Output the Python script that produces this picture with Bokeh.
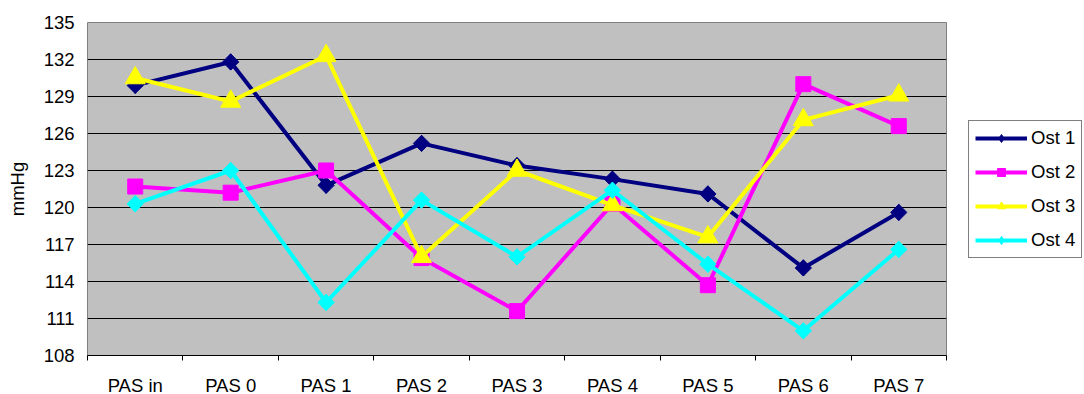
import numpy as np
from bokeh.plotting import figure
from bokeh.models import Range1d, FixedTicker, Legend, LegendItem
from bokeh.embed import file_html
from bokeh.resources import INLINE

categories = ["PAS in", "PAS 0", "PAS 1", "PAS 2", "PAS 3", "PAS 4", "PAS 5", "PAS 6", "PAS 7"]
ost1 = [129.9, 131.8, 121.8, 125.2, 123.4, 122.3, 121.1, 115.1, 119.6]
ost2 = [121.7, 121.2, 123.0, 115.9, 111.6, 120.3, 113.7, 130.0, 126.6]
ost3 = [130.5, 128.6, 132.3, 116.0, 123.0, 120.2, 117.6, 127.1, 129.1]
ost4 = [120.3, 123.0, 112.3, 120.6, 116.0, 121.4, 115.4, 110.0, 116.6]
series_names = ["Ost 1", "Ost 2", "Ost 3", "Ost 4"]
y_ticks = [108, 111, 114, 117, 120, 123, 126, 129, 132, 135]

FONT = "Liberation Sans"
FS = "18.5px"

p = figure(frame_width=859, frame_height=333, output_backend="svg", toolbar_location=None,
           x_range=Range1d(0, len(categories)), y_range=Range1d(108, 135),
           min_border_left=87, min_border_right=136, min_border_top=22, min_border_bottom=36)
p.background_fill_color = "#C0C0C0"
p.border_fill_color = "white"
p.outline_line_color = "#808080"
p.outline_line_width = 1

xs = [i + 0.5 for i in range(len(categories))]

p.xaxis.ticker = FixedTicker(ticks=xs, minor_ticks=list(range(len(categories) + 1)))
p.xaxis.major_label_overrides = {x: c for x, c in zip(xs, categories)}
p.xaxis.major_tick_line_color = None
p.xaxis.major_tick_out = 0
p.xaxis.major_tick_in = 0
p.xaxis.minor_tick_line_color = "black"
p.xaxis.minor_tick_out = 5
p.xaxis.minor_tick_in = 0
p.xaxis.axis_line_color = "black"
p.xaxis.major_label_standoff = 14
p.xaxis.major_label_text_font = FONT
p.xaxis.major_label_text_font_size = FS
p.xaxis.major_label_text_color = "black"

p.yaxis.ticker = FixedTicker(ticks=y_ticks)
p.yaxis.axis_line_color = None
p.yaxis.major_tick_line_color = None
p.yaxis.minor_tick_line_color = None
p.yaxis.major_tick_out = 0
p.yaxis.major_tick_in = 0
p.yaxis.major_label_standoff = 13
p.yaxis.major_label_text_font = FONT
p.yaxis.major_label_text_font_size = FS
p.yaxis.major_label_text_color = "black"
p.yaxis.axis_label = "mmHg"
p.yaxis.axis_label_text_font = FONT
p.yaxis.axis_label_text_font_size = FS
p.yaxis.axis_label_text_font_style = "normal"
p.yaxis.axis_label_text_color = "black"
p.yaxis.axis_label_standoff = 13

p.xgrid.grid_line_color = None
p.ygrid.ticker = FixedTicker(ticks=y_ticks[1:-1])
p.ygrid.grid_line_color = "black"
p.ygrid.grid_line_width = 1

colors = ["#000080", "#FF00FF", "#FFFF00", "#00FFFF"]
markers = ["square", "square", "triangle", "square"]
legend_markers = ["diamond", "square", "triangle", "diamond"]
sizes = [11.5, 15, 20, 11.5]
angles = [np.pi / 4, 0, 0, np.pi / 4]
data = [ost1, ost2, ost3, ost4]

items = []
for name, vals, col, mk, lmk, sz, ang in zip(series_names, data, colors, markers,
                                              legend_markers, sizes, angles):
    lr = p.line(xs, vals, line_color=col, line_width=4)
    leg_r = None
    if lmk != mk:
        # diamond drawn underneath the rotated square (fully covered), used for the legend
        leg_r = p.scatter(xs, vals, marker=lmk, size=16, fill_color=col, line_color=col)
    sr = p.scatter(xs, vals, marker=mk, size=sz, angle=ang, fill_color=col, line_color=col)
    items.append(LegendItem(label=name, renderers=[lr, leg_r if leg_r is not None else sr]))

legend = Legend(items=items, location=(22, 97))
legend.border_line_color = "black"
legend.border_line_width = 1
legend.background_fill_color = "white"
legend.background_fill_alpha = 1
legend.label_text_font = FONT
legend.label_text_font_size = FS
legend.label_text_color = "black"
legend.glyph_width = 52
legend.glyph_height = 20
legend.spacing = 12
legend.padding = 6
legend.margin = 0
legend.label_standoff = 4
p.add_layout(legend, "right")

open("out.html", "w").write(file_html(p, INLINE))
